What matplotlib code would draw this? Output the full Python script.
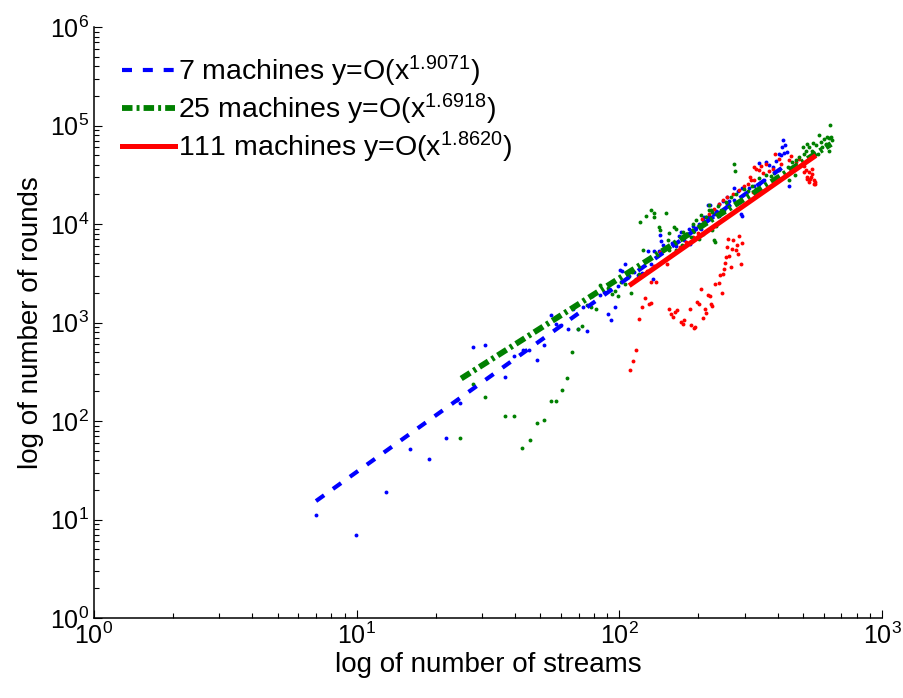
import matplotlib
matplotlib.use("Agg")
import matplotlib.pyplot as plt
from matplotlib.ticker import LogLocator, NullFormatter

plt.rcParams["font.family"] = ["Liberation Sans", "DejaVu Sans"]
plt.rcParams["mathtext.fontset"] = "custom"
plt.rcParams["mathtext.rm"] = "Liberation Sans"
plt.rcParams["mathtext.it"] = "Liberation Sans:italic"
plt.rcParams["mathtext.bf"] = "Liberation Sans:bold"

# measured points, 7 machines
blue_x = [6.97, 9.93, 12.9, 15.9, 18.9, 21.9, 24.1, 24.8, 27.8, 30.8,
          36.7, 39.6, 42.9, 45.2, 48.6, 51.5, 54.7, 57.4, 60.0, 63.7,
          66.5, 69.5, 72.6, 75.4, 78.5, 84.3, 87.2, 90.3, 93.0, 92.5,
          96.5, 98.8, 101, 102, 105, 109, 114, 118, 122, 132,
          134, 129, 136, 141, 143, 144, 147, 158, 164, 171,
          169, 177, 185, 184, 190, 196, 201, 205, 208, 214,
          220, 229, 237, 240, 248, 256, 217, 221, 210, 233,
          230, 240, 247, 258, 262, 274, 284, 274, 294, 312,
          326, 340, 356, 339, 361, 372, 383, 396, 406, 412,
          424, 436, 417, 428, 418, 443, 290, 294]
blue_y = [11.0, 7.0, 19.0, 52, 41, 67, 163, 152, 561, 597,
          278, 454, 522, 522, 417, 587, 1191, 975, 938, 868,
          1361, 854, 1438, 815, 1858, 1915, 2040, 1230, 1053, 2150,
          1436, 2328, 3380, 3305, 3955, 2940, 3250, 3015, 3180, 3955,
          2790, 5270, 5270, 5270, 7780, 6670, 6170, 6460, 5930, 8280,
          7550, 6820, 6210, 8950, 9460, 9170, 9910, 8950, 11040, 11750,
          12020, 12700, 13200, 12200, 13960, 15070, 15670, 15670, 11700, 13700,
          12700, 16000, 17300, 18700, 17300, 17600, 21600, 23300, 23300, 23300,
          24600, 25600, 27700, 41500, 42500, 39300, 37800, 43500, 50800, 49700,
          52400, 53600, 60300, 63700, 70500, 24600, 12700, 12200]

# measured points, 25 machines
green_x = [24.8, 27.8, 30.8, 36.7, 39.6, 42.7, 45.6, 48.6, 51.5, 54.7,
           57.4, 60.5, 63.4, 66.2, 69.5, 72.3, 75.4, 78.3, 81.5, 93.7,
           99.1, 96.2, 101.4, 105.4, 110.7, 112, 116, 119, 123, 120,
           126, 132, 136, 150, 135, 141, 143, 155, 162, 153,
           164, 173, 182, 187, 201, 208, 226, 233, 230, 232,
           220, 226, 244, 251, 256, 274, 276, 220, 214, 223,
           237, 244, 255, 266, 278, 299, 308, 321, 331, 340,
           361, 378, 388, 406, 437, 456, 470, 484, 467, 443,
           513, 527, 543, 560, 568, 585, 593, 603, 611, 619,
           630, 638, 644, 630, 634, 573, 547, 520, 498, 506,
           84.5, 90.3, 107.6, 164, 174, 190, 196, 204, 155]
green_y = [67, 240, 177, 112, 112, 53.5, 64, 95, 102, 160,
           160, 207, 274, 507, 859, 923, 1507, 1438, 1384, 1963,
           1858, 2089, 2577, 2477, 2010, 3250, 2790, 3080, 5400, 10470,
           11940, 13740, 12900, 13000, 11750, 9310, 8750, 8090, 9310, 6820,
           5480, 6070, 7960, 7370, 7100, 7960, 8610, 9460, 6820, 6560,
           13960, 13210, 12910, 13740, 16070, 40800, 34200, 15500, 11750, 13740,
           15070, 13740, 16670, 18750, 20280, 22800, 21600, 24600, 22800, 29440,
           31120, 30410, 32810, 34990, 37760, 42460, 44870, 47750, 31120, 27670,
           55700, 60300, 55700, 62700, 51600, 67800, 60300, 73300, 65200, 77300,
           75000, 76200, 70500, 55000, 102300, 79800, 66200, 65200, 60300, 51600,
           2385, 2260, 2900, 8950, 8280, 10070, 10890, 12220, 5400]

# measured points, 111 machines
red_x = [110, 113, 116, 118.6, 122, 125, 129.5, 131.5, 132, 137.4,
         154, 157, 160, 163, 166, 171, 174, 177, 187, 192,
         194, 186, 197, 201, 209, 211, 214, 204, 218, 221,
         226, 224, 231, 240, 245, 242, 247, 252, 254, 262,
         266, 268, 277, 282, 260, 270, 280, 285, 293, 290,
         256, 251, 207, 220, 230, 240, 247, 258, 270, 286,
         299, 308, 326, 331, 326, 340, 346, 361, 372, 351,
         383, 392, 406, 412, 443, 450, 470, 484, 505, 513,
         527, 536, 543, 552, 556, 527, 520, 543, 314, 317,
         324, 336, 115, 121, 127, 135, 143, 152, 160, 170,
         180, 190, 200, 505, 520, 533, 554, 551]
red_y = [327, 404, 531, 1096, 1437, 1774, 1540, 1590, 2550, 2575,
         1360, 1230, 1137, 1280, 1352, 1012, 975, 1053, 937, 880,
         901, 1384, 1630, 1530, 1121, 1360, 1260, 2172, 1888, 1857,
         1470, 1530, 2440, 2515, 1995, 3060, 3080, 4050, 4610, 4730,
         3650, 5520, 5400, 5000, 7100, 6820, 6170, 7540, 6400, 3960,
         5830, 3520, 11300, 12700, 14290, 16030, 17340, 18750, 20280, 22230,
         24040, 25590, 27670, 36310, 37760, 34990, 39260, 40830, 34430, 32890,
         36310, 51640, 45920, 40830, 44160, 48530, 42460, 45920, 39260, 34990,
         33650, 29920, 32360, 27670, 25590, 26610, 28770, 36310, 29920, 27670,
         21090, 21930, 2700, 3000, 3300, 3750, 5190, 3890, 5000, 5800,
         6600, 7300, 8100, 33600, 29900, 28800, 26600, 25600]

# power-law fit lines, end points
fit_x = [[7, 440], [25, 640], [111, 550]]
fit_y = [[15.4, 41400], [270, 65000], [2450, 48000]]
labels = [r"7 machines y=O(x$^{\mathdefault{1.9071}}$)",
          r"25 machines y=O(x$^{\mathdefault{1.6918}}$)",
          r"111 machines y=O(x$^{\mathdefault{1.8620}}$)"]
colors = ["#0000ff", "#008000", "#ff0000"]

fig = plt.figure(figsize=(9.04, 6.98), dpi=100)
ax = fig.add_axes([0.104, 0.1146, 0.8717, 0.8467])

for xs, ys, c in [(blue_x, blue_y, colors[0]), (red_x, red_y, colors[2]),
                  (green_x, green_y, colors[1])]:
    ax.plot(xs, ys, "o", color=c, markersize=2.8, markeredgewidth=0)

ax.plot(fit_x[0], fit_y[0], color=colors[0], lw=3, dashes=(2.4, 2.6),
        label=labels[0])
ax.plot(fit_x[1], fit_y[1], color=colors[1], lw=4.2,
        dashes=(1.8, 0.7, 0.5, 0.7), label=labels[1])
ax.plot(fit_x[2], fit_y[2], color=colors[2], lw=3.6, label=labels[2])

ax.set_xscale("log")
ax.set_yscale("log")
ax.set_xlim(1, 1000)
ax.set_ylim(1, 1e6)
ax.spines["top"].set_visible(False)
ax.spines["right"].set_visible(False)
for s in ["left", "bottom"]:
    ax.spines[s].set_linewidth(1.1)

for axis in [ax.xaxis, ax.yaxis]:
    axis.set_major_locator(LogLocator(base=10, numticks=20))
    axis.set_minor_locator(LogLocator(base=10, subs=range(2, 10), numticks=100))
    axis.set_minor_formatter(NullFormatter())
ax.tick_params(which="both", direction="in", top=False, right=False,
               labelsize=18, width=0.8)
ax.tick_params(which="major", length=6)
ax.tick_params(which="minor", length=3.5)

ax.set_xlabel("log of number of streams", fontsize=20, labelpad=2)
ax.set_ylabel("log of number of rounds", fontsize=20, labelpad=4)

ax.legend(loc="upper left", bbox_to_anchor=(0.0355, 0.955), frameon=False,
          fontsize=20.5, handlelength=1.86, handletextpad=0.1, borderpad=0,
          borderaxespad=0, labelspacing=0.1)

fig.savefig("out.png", dpi=100)
plt.close(fig)
